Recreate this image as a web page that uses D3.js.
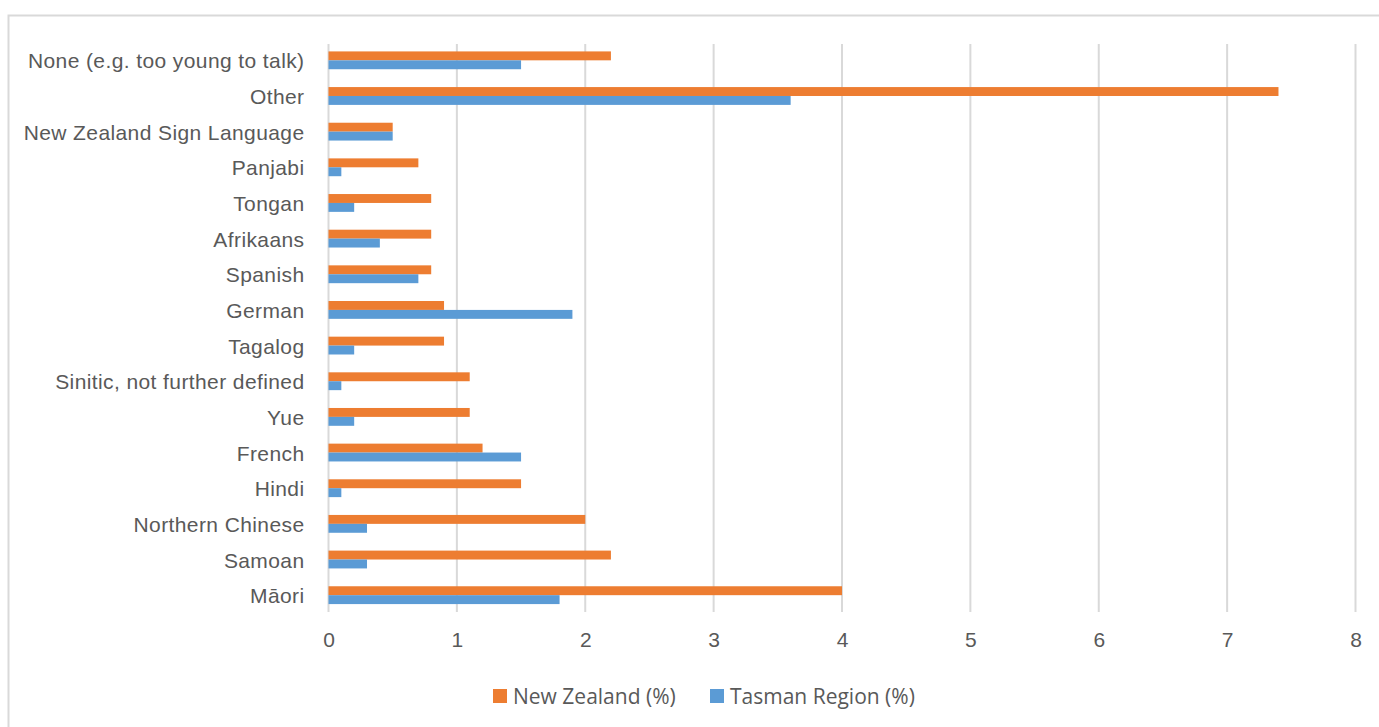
<!DOCTYPE html>
<html>
<head>
<meta charset="utf-8">
<script src="https://cdn.jsdelivr.net/npm/d3@7"></script>
<style>
  body { margin: 0; background: #fff; }
  svg { display: block; font-family: "Open Sans", Lato, sans-serif; }
  .axis path, .axis line { display: none; }
  .axis text { fill: #595959; font-size: 21px; }
  .y.axis text { letter-spacing: 0.4px; }
  .grid line { stroke: #d9d9d9; stroke-width: 2; }
  .legend text { fill: #595959; font-size: 21px; }
</style>
</head>
<body>
<svg id="chart" width="1379" height="727"></svg>
<script>
// categories listed top to bottom
var languages = [
  "None (e.g. too young to talk)", "Other", "New Zealand Sign Language",
  "Panjabi", "Tongan", "Afrikaans", "Spanish", "German", "Tagalog",
  "Sinitic, not further defined", "Yue", "French", "Hindi",
  "Northern Chinese", "Samoan", "Māori"
];
var newZealand = [2.2, 7.4, 0.5, 0.7, 0.8, 0.8, 0.8, 0.9, 0.9, 1.1, 1.1, 1.2, 1.5, 2.0, 2.2, 4.0];
var tasman = [1.5, 3.6, 0.5, 0.1, 0.2, 0.4, 0.7, 1.9, 0.2, 0.1, 0.2, 1.5, 0.1, 0.3, 0.3, 1.8];
var xTicks = [0, 1, 2, 3, 4, 5, 6, 7, 8];
var seriesNames = ["New Zealand (%)", "Tasman Region (%)"];
var seriesColors = ["#ed7d31", "#5b9bd5"];

var rows = languages.map(function(name, i) {
  return {name: name, values: [newZealand[i], tasman[i]]};
});

var margin = {top: 42.5, left: 328.5};
var plotWidth = 1027;
var plotHeight = 570.5;

var svg = d3.select("#chart");

// outer frame
svg.append("rect")
    .attr("x", 8.5).attr("y", 15.5)
    .attr("width", 1400).attr("height", 800)
    .attr("fill", "none")
    .attr("stroke", "#d9d9d9")
    .attr("stroke-width", 2);

var chart = svg.append("g")
    .attr("transform", `translate(${margin.left}, ${margin.top})`);

var xScale = d3.scaleLinear().domain([0, 8]).range([0, plotWidth]);
var yScale = d3.scaleBand()
    .domain(languages)
    .range([0, plotHeight])
    .paddingInner(0.5)
    .paddingOuter(0.25);
var subScale = d3.scaleBand()
    .domain([0, 1])
    .range([0, yScale.bandwidth()]);

chart.append("g")
    .attr("class", "grid")
    .selectAll("line")
    .data(xTicks)
    .enter().append("line")
        .attr("x1", function(d) { return xScale(d); })
        .attr("x2", function(d) { return xScale(d); })
        .attr("y1", 1.5)
        .attr("y2", plotHeight - 1);

var row = chart.selectAll("g.row")
    .data(rows)
    .enter().append("g")
        .attr("class", "row")
        .attr("transform", function(d) { return `translate(0, ${yScale(d.name)})`; });

row.selectAll("rect")
    .data(function(d) { return d.values; })
    .enter().append("rect")
        .attr("x", xScale(0))
        .attr("y", function(d, i) { return subScale(i); })
        .attr("width", function(d) { return xScale(d) - xScale(0); })
        .attr("height", subScale.bandwidth())
        .attr("fill", function(d, i) { return seriesColors[i]; });

chart.append("g")
    .attr("class", "y axis")
    .attr("transform", "translate(-2, 0)")
    .call(d3.axisLeft(yScale).tickSize(0).tickPadding(22))
    .selectAll("text")
        .attr("dy", "0.38em");

chart.append("g")
    .attr("class", "x axis")
    .attr("transform", `translate(0, ${plotHeight})`)
    .call(d3.axisBottom(xScale).tickValues(xTicks).tickSize(0).tickPadding(19));

var legendX = [493, 710];
var legend = svg.append("g")
    .attr("class", "legend")
    .selectAll("g")
    .data(seriesNames)
    .enter().append("g")
        .attr("transform", function(d, i) { return `translate(${legendX[i]}, 689)`; });
legend.append("rect")
    .attr("width", 14).attr("height", 14)
    .attr("fill", function(d, i) { return seriesColors[i]; });
legend.append("text")
    .attr("x", 20)
    .attr("y", 7)
    .attr("dy", "0.36em")
    .text(function(d) { return d; });
</script>
</body>
</html>
